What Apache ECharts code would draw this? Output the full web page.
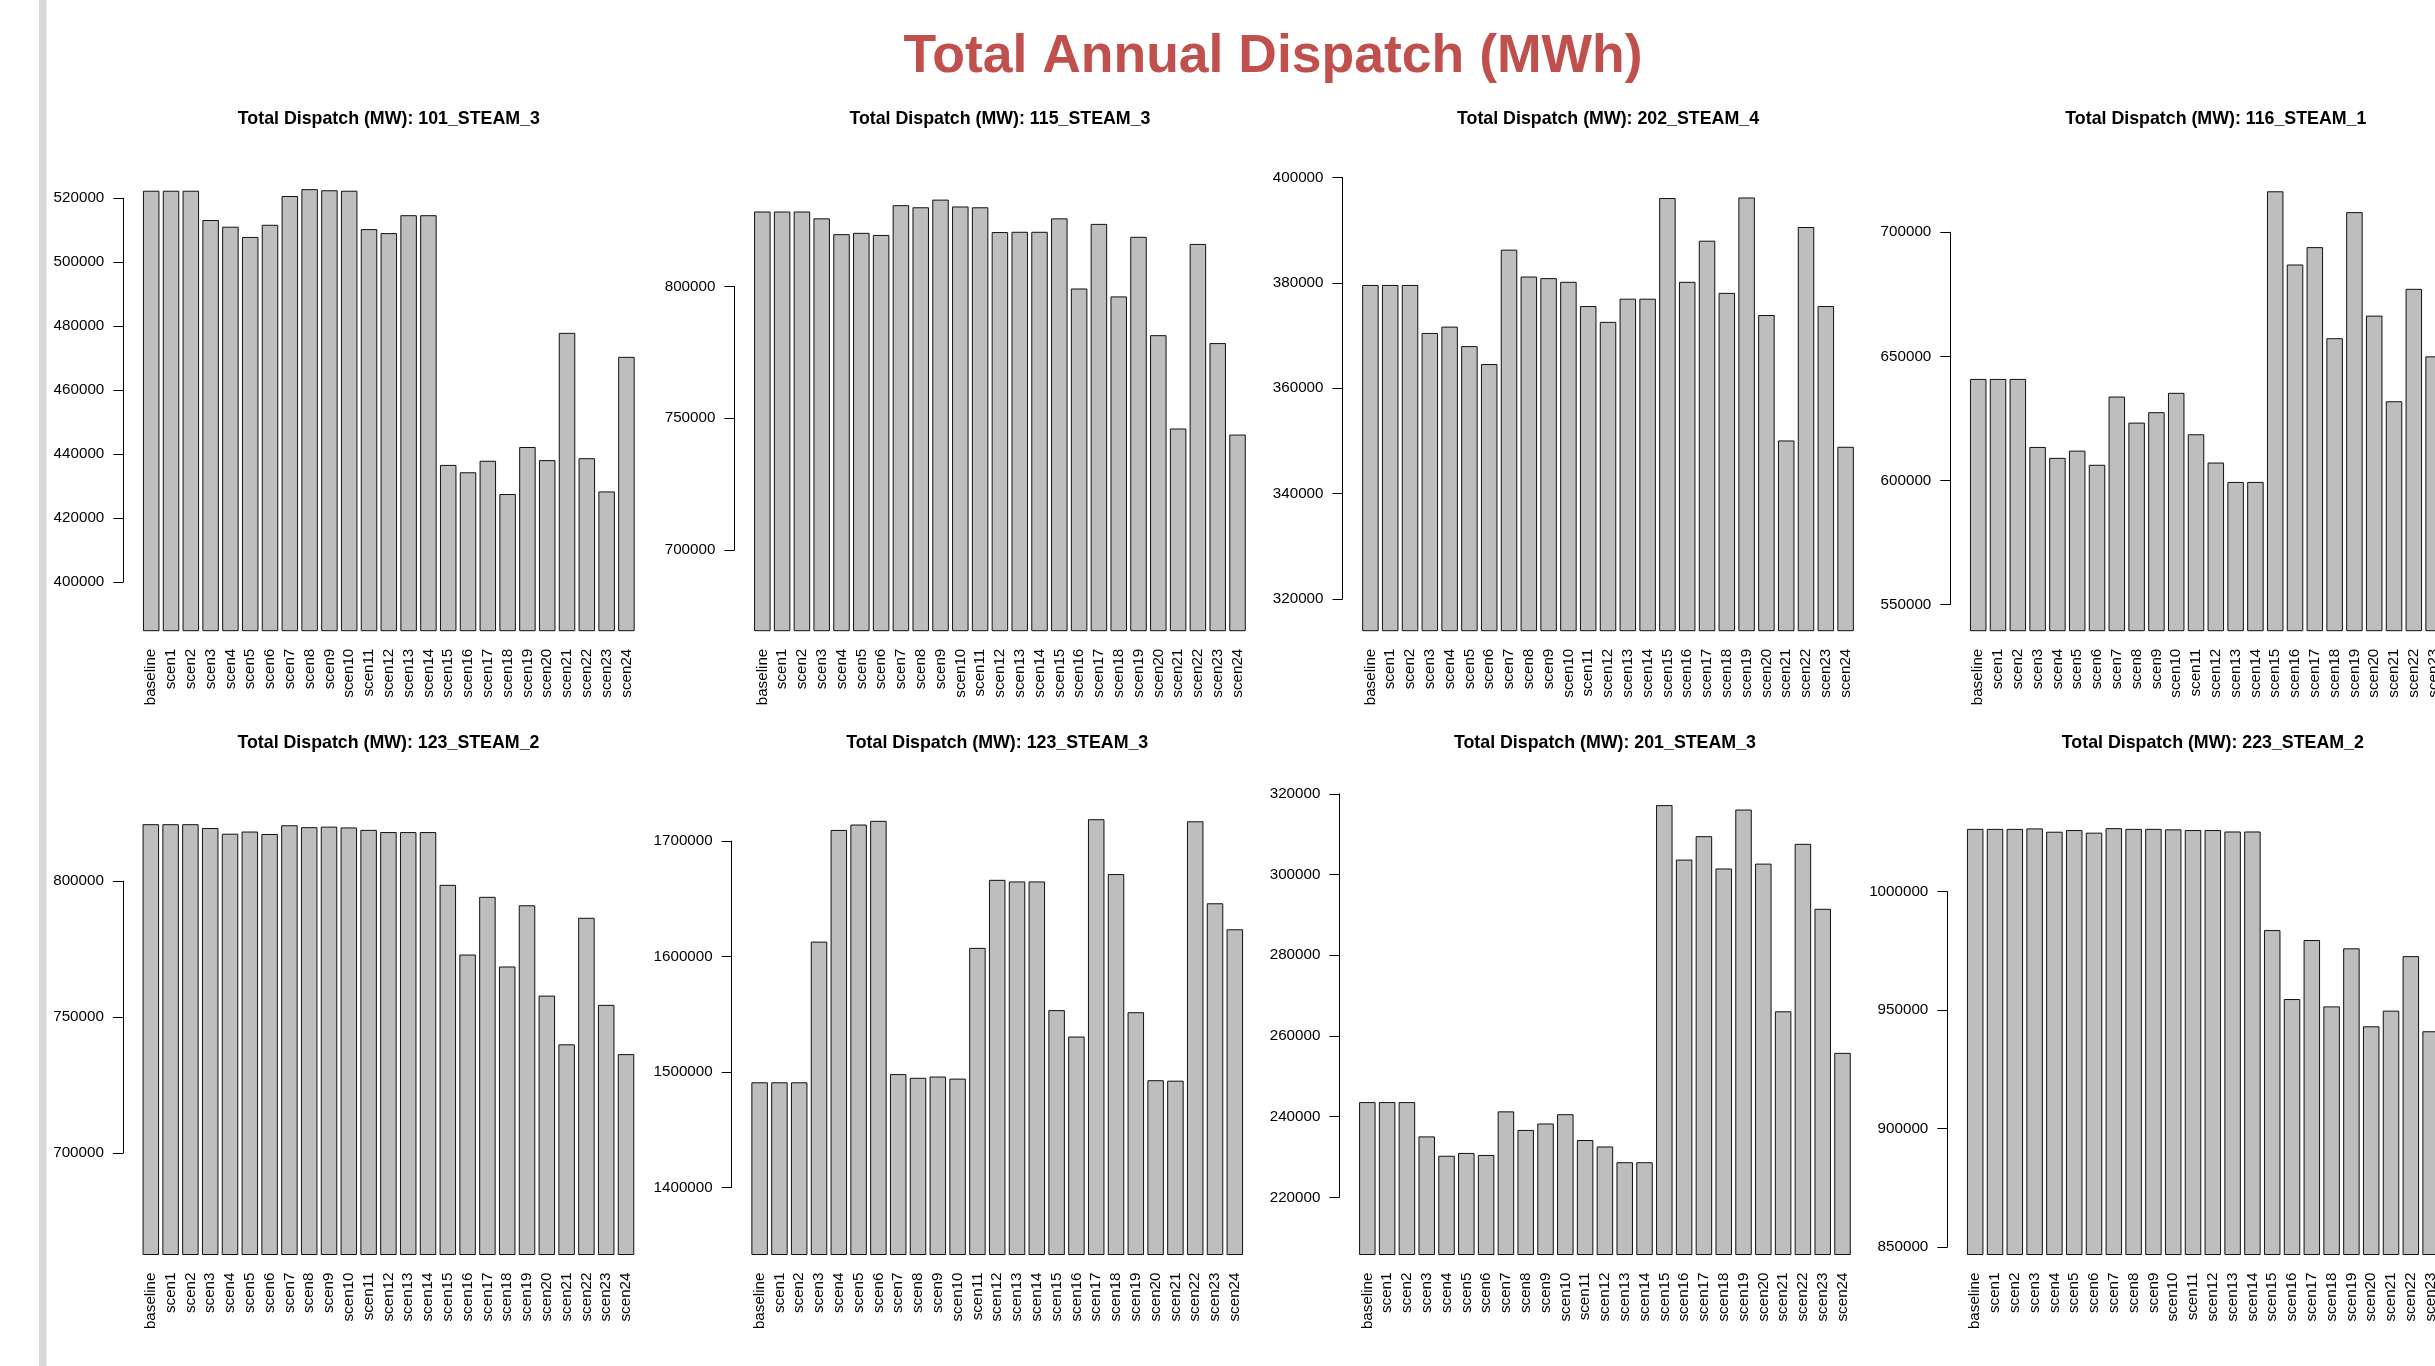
<!DOCTYPE html>
<html>
<head>
<meta charset="utf-8">
<script src="https://cdn.jsdelivr.net/npm/echarts@6/dist/echarts.min.js"></script>
<style>
  html, body { margin: 0; padding: 0; background: #fff; }
  #chart { width: 2435px; height: 1366px; }
</style>
</head>
<body>
<div id="chart"></div>
<script>
// Scenario names along each x axis
const scenarios = ['baseline', 'scen1', 'scen2', 'scen3', 'scen4', 'scen5', 'scen6', 'scen7', 'scen8',
  'scen9', 'scen10', 'scen11', 'scen12', 'scen13', 'scen14', 'scen15', 'scen16', 'scen17', 'scen18',
  'scen19', 'scen20', 'scen21', 'scen22', 'scen23', 'scen24'];

// Generating units, one panel each (row by row)
const units = ['101_STEAM_3', '115_STEAM_3', '202_STEAM_4', '116_STEAM_1',
  '123_STEAM_2', '123_STEAM_3', '201_STEAM_3', '223_STEAM_2'];

// Total annual dispatch per scenario
const dispatch_101_STEAM_3 = [522350, 522350, 522350, 513200, 511100, 507900, 511700, 520700, 522850,
  522500, 522350, 510350, 509100, 514700, 514700, 436600, 434300, 437900, 427500, 442200, 438100,
  477900, 438700, 428300, 470400];
const dispatch_115_STEAM_3 = [828400, 828400, 828400, 825800, 819800, 820300, 819500, 830800, 830000,
  832900, 830300, 830000, 820600, 820700, 820700, 825800, 799200, 823700, 796200, 818800, 781500,
  746100, 816100, 778500, 743800];
const dispatch_202_STEAM_4 = [379600, 379600, 379600, 370500, 371700, 368000, 364600, 386300, 381200,
  380900, 380200, 375600, 372600, 377000, 377000, 396100, 380200, 388000, 378100, 396200, 373900,
  350100, 390600, 375600, 348900];
const dispatch_116_STEAM_1 = [640900, 640900, 640900, 613500, 609100, 612000, 606300, 633800, 623300,
  627500, 635300, 618600, 607200, 599400, 599400, 716500, 687000, 694000, 657300, 708100, 666400,
  631900, 677200, 650000, 646000];
const dispatch_123_STEAM_2 = [820900, 820900, 820900, 819500, 817400, 818200, 817300, 820500, 819800,
  820000, 819700, 818800, 818000, 818000, 818000, 798600, 773000, 794200, 768600, 791100, 757900,
  740000, 786500, 754500, 736400];
const dispatch_123_STEAM_3 = [1491100, 1491100, 1491100, 1612900, 1709600, 1714300, 1717500, 1498200,
  1495000, 1496100, 1494300, 1607500, 1666400, 1665000, 1665000, 1553600, 1530700, 1718900, 1671400,
  1551800, 1492900, 1492500, 1717100, 1646100, 1623600];
const dispatch_201_STEAM_3 = [243600, 243600, 243600, 235100, 230300, 231000, 230500, 241300, 236700,
  238300, 240600, 234200, 232600, 228700, 228700, 317200, 303700, 309500, 301500, 316100, 302700,
  266100, 307600, 291500, 255800];
const dispatch_223_STEAM_2 = [1026500, 1026500, 1026500, 1026700, 1025300, 1026000, 1024900, 1026800,
  1026500, 1026500, 1026300, 1026000, 1026000, 1025400, 1025400, 983800, 954700, 979600, 951600,
  976100, 943200, 949800, 972800, 941100, 941000];

// Y-axis tick labels per panel
const ticks_101_STEAM_3 = [400000, 420000, 440000, 460000, 480000, 500000, 520000];
const ticks_115_STEAM_3 = [700000, 750000, 800000];
const ticks_202_STEAM_4 = [320000, 340000, 360000, 380000, 400000];
const ticks_116_STEAM_1 = [550000, 600000, 650000, 700000];
const ticks_123_STEAM_2 = [700000, 750000, 800000];
const ticks_123_STEAM_3 = [1400000, 1500000, 1600000, 1700000];
const ticks_201_STEAM_3 = [220000, 240000, 260000, 280000, 300000, 320000];
const ticks_223_STEAM_2 = [850000, 900000, 950000, 1000000];

const seriesValues = [dispatch_101_STEAM_3, dispatch_115_STEAM_3, dispatch_202_STEAM_4, dispatch_116_STEAM_1,
  dispatch_123_STEAM_2, dispatch_123_STEAM_3, dispatch_201_STEAM_3, dispatch_223_STEAM_2];
const tickValues = [ticks_101_STEAM_3, ticks_115_STEAM_3, ticks_202_STEAM_4, ticks_116_STEAM_1,
  ticks_123_STEAM_2, ticks_123_STEAM_3, ticks_201_STEAM_3, ticks_223_STEAM_2];

// ---- layout of the 2 x 4 panel grid ----
const FONT = "'Liberation Sans', Arial, Helvetica, sans-serif";
const plotLeft = [123.3, 734.4, 1342.5, 1950.3, 122.9, 731.7, 1339.4, 1947.3]; // left edge of each plot region (y axis line)
const rowTop = [155.7, 779.5];   // top of plot region per row
const rowTitleY = [119.4, 742.9];
const plotH = 475;               // plot region height
const unitPx = 16.5;             // pixels per bar-width unit (bar = 1, space = 0.2)
const plotW = 32.184 * unitPx;   // plot region width (bars + 4% padding each side)

const grid = [], xAxis = [], yAxis = [], series = [];
const graphic = [
  { type: 'rect', shape: { x: 39, y: 0, width: 7.5, height: 1366 }, style: { fill: '#d9d9d9' }, silent: true },
  { type: 'text', x: 1273, y: 57.5, silent: true,
    style: { text: 'Total Annual Dispatch (MWh)', font: 'bold 53.5px ' + FONT, fill: '#C0504D',
      align: 'center', verticalAlign: 'middle', textAlign: 'center', textVerticalAlign: 'middle' } }
];

units.forEach((unit, i) => {
  const values = seriesValues[i];
  const ticks = tickValues[i];
  const row = i < 4 ? 0 : 1;
  const top = rowTop[row];
  const left = plotLeft[i];
  // value range of the plot region: 90% of the smallest bar up to 102% of the largest
  const lo = 0.9 * Math.min(...values);
  const hi = 1.02 * Math.max(...values);
  const yOf = v => top + (hi - v) / (hi - lo) * plotH;

  // bars
  grid.push({ left: left + 1.092 * unitPx, top: top, width: 30 * unitPx, height: plotH,
    containLabel: false, outerBoundsMode: 'none' });
  xAxis.push({ type: 'category', gridIndex: 2 * i, data: scenarios,
    axisLine: { show: false }, axisTick: { show: false }, splitLine: { show: false },
    axisLabel: { rotate: 90, interval: 0, margin: 18, fontSize: 15.2, fontFamily: FONT, color: '#000' } });
  yAxis.push({ type: 'value', gridIndex: 2 * i, min: lo, max: hi, show: false,
    splitLine: { show: false } });
  series.push({ type: 'bar', name: unit, xAxisIndex: 2 * i, yAxisIndex: 2 * i, data: values,
    barCategoryGap: '16.667%', silent: true,
    itemStyle: { color: '#bebebe', borderColor: '#111', borderWidth: 1 } });

  // y axis drawn only between first and last tick
  const t0 = ticks[0], t1 = ticks[ticks.length - 1];
  grid.push({ left: left, top: yOf(t1), width: 1, height: yOf(t0) - yOf(t1),
    containLabel: false, outerBoundsMode: 'none' });
  xAxis.push({ type: 'value', gridIndex: 2 * i + 1, show: false, min: 0, max: 1 });
  yAxis.push({ type: 'value', gridIndex: 2 * i + 1, position: 'left',
    min: t0, max: t1, interval: ticks[1] - ticks[0],
    axisLine: { show: true, lineStyle: { color: '#000', width: 1 } },
    axisTick: { show: true, length: 10, lineStyle: { color: '#000', width: 1 } },
    splitLine: { show: false },
    axisLabel: { margin: 19, fontSize: 15.2, fontFamily: FONT, color: '#000', formatter: v => String(v) } });

  // panel title
  graphic.push({ type: 'text', x: left + plotW / 2, y: rowTitleY[row], silent: true,
    style: { text: 'Total Dispatch (MW): ' + unit, font: 'bold 17.8px ' + FONT, fill: '#000',
      align: 'center', verticalAlign: 'middle', textAlign: 'center', textVerticalAlign: 'middle' } });
});

const chart = echarts.init(document.getElementById('chart'), null, { renderer: 'canvas' });
chart.setOption({
  backgroundColor: '#ffffff',
  animation: false,
  textStyle: { fontFamily: FONT },
  grid, xAxis, yAxis, series, graphic
});
</script>
</body>
</html>
